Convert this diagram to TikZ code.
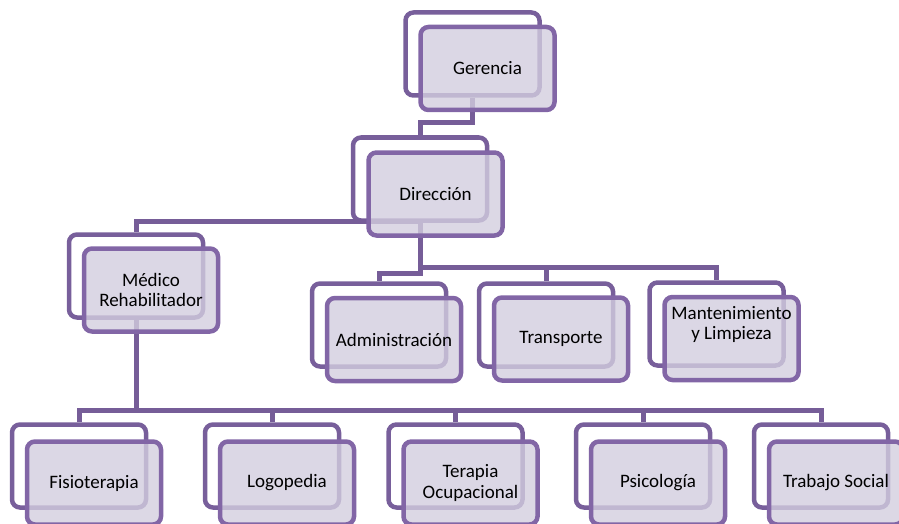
\documentclass[tikz,border=0pt]{standalone}
\usepackage{fontspec}
\setmainfont{Carlito}
\definecolor{connc}{RGB}{118,93,152}
\definecolor{backc}{RGB}{120,95,155}
\definecolor{frontc}{RGB}{130,102,166}
\definecolor{fillc}{RGB}{211,206,223}
\tikzset{
 backbox/.style={draw=backc, fill=white, line width=4.5pt, rounded corners=8pt, minimum width=134pt, minimum height=83pt, inner sep=0pt},
 frontbox/.style={draw=frontc, fill=fillc, fill opacity=0.8, draw opacity=1, text opacity=1, line width=4.5pt, rounded corners=8pt, minimum width=134pt, minimum height=83pt, inner sep=0pt, align=center, font=\fontsize{19}{20.5}\selectfont},
 txt/.style={align=center, inner sep=0pt, font=\fontsize{19}{20.5}\selectfont},
 conn/.style={draw=connc, line width=5pt}
}
\begin{document}
\begin{tikzpicture}[x=1pt,y=-1pt]
\clip (0,0) rectangle (899,524);
% back boxes
\node[backbox] (gerB) at (472.5,54) {};
\node[backbox] (dirB) at (420,179) {};
\node[backbox] (medB) at (136,276) {};
\node[backbox] (admB) at (379,325) {};
\node[backbox] (traB) at (546,325) {};
\node[backbox] (manB) at (716.5,324) {};
\node[backbox] (fisB) at (79,466) {};
\node[backbox] (logB) at (272,466) {};
\node[backbox] (terB) at (455.5,466) {};
\node[backbox] (psiB) at (643,466) {};
\node[backbox] (trsB) at (821,466) {};
% bus levels
\coordinate (bus1) at (0,123);
\coordinate (bus2) at (0,221);
\coordinate (bus3) at (0,267.5);
\coordinate (bus3b) at (0,273);
\coordinate (bus4) at (0,410);
% connectors
\draw[conn] (gerB.south) -- (gerB.south |- bus1) -- (dirB.north |- bus1) -- (dirB.north);
\draw[conn] (dirB.south |- bus2) -- (medB.north |- bus2) -- (medB.north);
\draw[conn] (dirB.south) -- (dirB.south |- bus3b) -- (admB.north |- bus3b) -- (admB.north);
\draw[conn] (dirB.south |- bus3) -- (manB.north |- bus3) -- (manB.north);
\draw[conn] (traB.north |- bus3) -- (traB.north);
\draw[conn] (medB.south) -- (medB.south |- bus4);
\draw[conn] (fisB.north) -- (fisB.north |- bus4) -- (trsB.north |- bus4) -- (trsB.north);
\draw[conn] (logB.north |- bus4) -- (logB.north);
\draw[conn] (terB.north |- bus4) -- (terB.north);
\draw[conn] (psiB.north |- bus4) -- (psiB.north);
% front boxes
\node[frontbox] (ger) at (487.5,68.5) {Gerencia};
\node[frontbox] (dir) at (435.5,194) {Dirección};
\node[frontbox] (med) at (151,290) {Médico\\Rehabilitador};
\node[frontbox] (adm) at (394,339.5) {Administración};
\node[frontbox] (tra) at (561,339) {Transporte};
\node[frontbox] (man) at (731.5,338.5) {};
\node[txt] (manT) at ([yshift=14pt]man.center) {Mantenimiento\\y Limpieza};
\node[frontbox] (fis) at (94,483) {Fisioterapia};
\node[frontbox] (log) at (287,483) {Logopedia};
\node[frontbox] (ter) at (470.5,483) {Terapia\\Ocupacional};
\node[frontbox] (psi) at (658,483) {Psicología};
\node[frontbox] (trs) at (836,483) {Trabajo Social};
\end{tikzpicture}
\end{document}
